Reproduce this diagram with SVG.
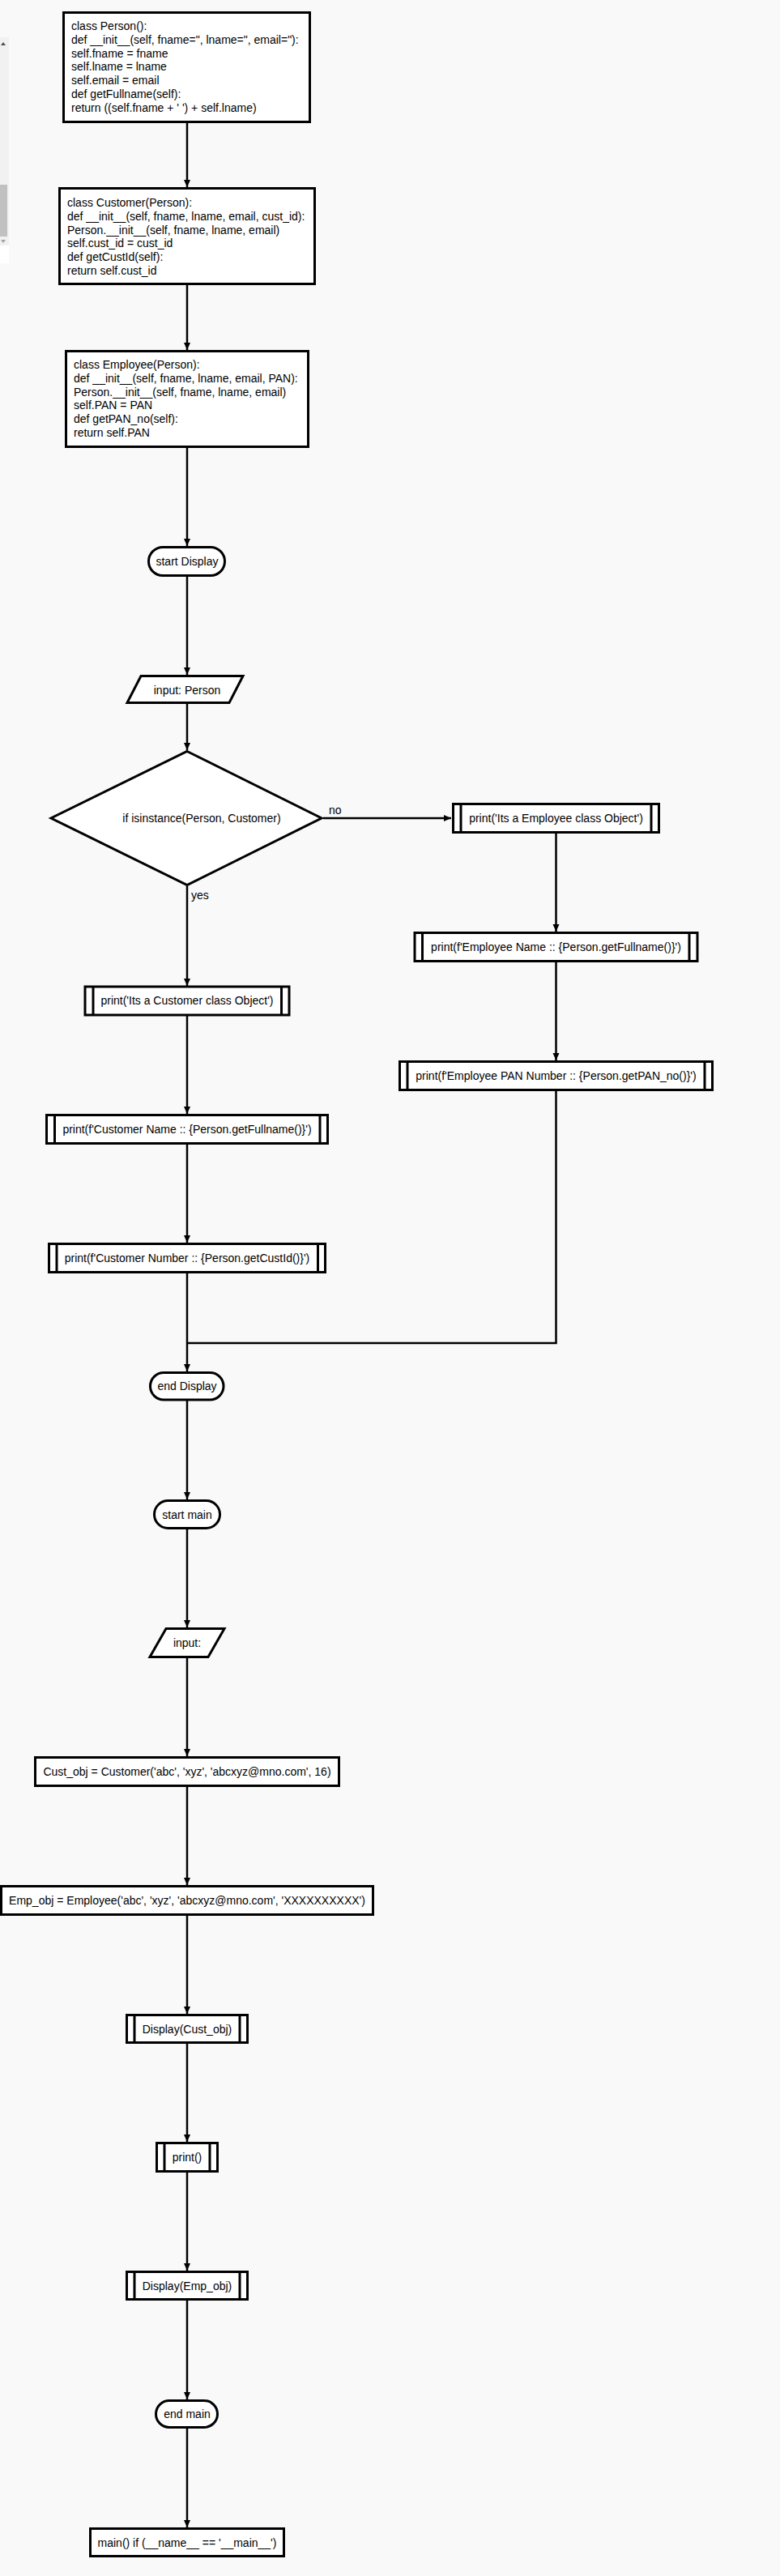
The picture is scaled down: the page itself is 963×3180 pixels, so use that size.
<svg xmlns="http://www.w3.org/2000/svg" width="963" height="3180" viewBox="0 0 963 3180">
<style>
.bg{fill:#f9f9f9}
.box{fill:#fff;stroke:#000;stroke-width:3}
.inner{stroke:#000;stroke-width:3;fill:none}
.t{font-family:"Liberation Sans",Arial,sans-serif;font-size:14px;fill:#000}
.c{text-anchor:middle}
.edge{fill:none;stroke:#000;stroke-width:2.5}
</style>
<defs>
<marker id="arr" markerUnits="userSpaceOnUse" markerWidth="10" markerHeight="10" refX="9" refY="4" orient="auto">
<path d="M0,0 L9,4 L0,8 Z" fill="#000"/>
</marker>
</defs>
<rect class="bg" x="0" y="0" width="963" height="3180"/>
<g id="scrollbar">
<rect x="0" y="46" width="11" height="257" fill="#f1f1f1"/>
<rect x="0" y="228" width="9" height="64" fill="#c1c1c1"/>
<path d="M1,56 L4,52 L7,56 Z" fill="#505050"/>
<path d="M1,296 L4,300 L7,296 Z" fill="#a3a3a3"/>
<rect x="0" y="303" width="11" height="22" fill="#fff"/>
</g>
<g id="connectors">
<path class="edge" d="M231,152 V231" marker-end="url(#arr)"/>
<path class="edge" d="M231,352 V432" marker-end="url(#arr)"/>
<path class="edge" d="M231,553 V674" marker-end="url(#arr)"/>
<path class="edge" d="M231,712 V833" marker-end="url(#arr)"/>
<path class="edge" d="M231,869 V926" marker-end="url(#arr)"/>
<path class="edge" d="M399,1010 H557" marker-end="url(#arr)"/>
<path class="edge" d="M231,1094 V1217" marker-end="url(#arr)"/>
<path class="edge" d="M686.5,1029 V1150" marker-end="url(#arr)"/>
<path class="edge" d="M686.5,1187 V1309" marker-end="url(#arr)"/>
<path class="edge" d="M231,1254 V1375" marker-end="url(#arr)"/>
<path class="edge" d="M231,1412 V1534" marker-end="url(#arr)"/>
<path class="edge" d="M686.5,1346 V1658 H231"/>
<path class="edge" d="M231,1571 V1693" marker-end="url(#arr)"/>
<path class="edge" d="M231,1729 V1851" marker-end="url(#arr)"/>
<path class="edge" d="M231,1888 V2009" marker-end="url(#arr)"/>
<path class="edge" d="M231,2047 V2168" marker-end="url(#arr)"/>
<path class="edge" d="M231,2206 V2327" marker-end="url(#arr)"/>
<path class="edge" d="M231,2365 V2486" marker-end="url(#arr)"/>
<path class="edge" d="M231,2523 V2644" marker-end="url(#arr)"/>
<path class="edge" d="M231,2682 V2803" marker-end="url(#arr)"/>
<path class="edge" d="M231,2840 V2962" marker-end="url(#arr)"/>
<path class="edge" d="M231,2998 V3120" marker-end="url(#arr)"/>
<text class="t" x="406" y="1005">no</text>
<text class="t" x="236" y="1110">yes</text>
</g>
<g id="person">
<rect class="box" x="78.5" y="15.5" width="304" height="135"/>
<text class="t" x="88" y="37"><tspan x="88">class Person():</tspan><tspan x="88" dy="16.8">def __init__(self, fname=", lname=", email="):</tspan><tspan x="88" dy="16.8">self.fname = fname</tspan><tspan x="88" dy="16.8">self.lname = lname</tspan><tspan x="88" dy="16.8">self.email = email</tspan><tspan x="88" dy="16.8">def getFullname(self):</tspan><tspan x="88" dy="16.8">return ((self.fname + ' ') + self.lname)</tspan></text>
</g>
<g id="customer">
<rect class="box" x="73.5" y="232.5" width="315" height="118"/>
<text class="t" x="83" y="255"><tspan x="83">class Customer(Person):</tspan><tspan x="83" dy="16.8">def __init__(self, fname, lname, email, cust_id):</tspan><tspan x="83" dy="16.8">Person.__init__(self, fname, lname, email)</tspan><tspan x="83" dy="16.8">self.cust_id = cust_id</tspan><tspan x="83" dy="16.8">def getCustId(self):</tspan><tspan x="83" dy="16.8">return self.cust_id</tspan></text>
</g>
<g id="employee">
<rect class="box" x="81.5" y="433.5" width="299" height="118"/>
<text class="t" x="91" y="455"><tspan x="91">class Employee(Person):</tspan><tspan x="91" dy="16.8">def __init__(self, fname, lname, email, PAN):</tspan><tspan x="91" dy="16.8">Person.__init__(self, fname, lname, email)</tspan><tspan x="91" dy="16.8">self.PAN = PAN</tspan><tspan x="91" dy="16.8">def getPAN_no(self):</tspan><tspan x="91" dy="16.8">return self.PAN</tspan></text>
</g>
<g id="start-display">
<rect class="box" x="183.5" y="675.5" width="94" height="35" rx="17.5"/>
<text class="t c" x="231" y="698">start Display</text>
</g>
<g id="input-person">
<polygon class="box" points="174,834.5 300,834.5 283,867.5 157,867.5"/>
<text class="t c" x="231" y="857">input: Person</text>
</g>
<g id="decision">
<polygon class="box" points="231,927.5 397,1010 231,1092.5 63,1010"/>
<text class="t c" x="249" y="1015">if isinstance(Person, Customer)</text>
</g>
<g id="emp-print">
<rect class="box" x="559.5" y="992.5" width="254" height="35"/>
<path class="inner" d="M569,992.5 V1027.5 M804,992.5 V1027.5"/>
<text class="t c" x="686.5" y="1015">print('Its a Employee class Object')</text>
</g>
<g id="emp-name">
<rect class="box" x="512" y="1151.5" width="349" height="35"/>
<path class="inner" d="M521.5,1151.5 V1186.5 M851,1151.5 V1186.5"/>
<text class="t c" x="686.5" y="1174">print(f'Employee Name :: {Person.getFullname()}')</text>
</g>
<g id="emp-pan">
<rect class="box" x="493.5" y="1310.5" width="386" height="35"/>
<path class="inner" d="M503,1310.5 V1345.5 M870,1310.5 V1345.5"/>
<text class="t c" x="686.5" y="1333">print(f'Employee PAN Number :: {Person.getPAN_no()}')</text>
</g>
<g id="cust-print">
<rect class="box" x="105" y="1218" width="252" height="35"/>
<path class="inner" d="M115,1218 V1253 M347.5,1218 V1253"/>
<text class="t c" x="231" y="1240">print('Its a Customer class Object')</text>
</g>
<g id="cust-name">
<rect class="box" x="57.5" y="1376.5" width="347" height="35"/>
<path class="inner" d="M67.5,1376.5 V1411.5 M395,1376.5 V1411.5"/>
<text class="t c" x="231" y="1399">print(f'Customer Name :: {Person.getFullname()}')</text>
</g>
<g id="cust-number">
<rect class="box" x="60.5" y="1535.5" width="341" height="35"/>
<path class="inner" d="M70,1535.5 V1570.5 M392.5,1535.5 V1570.5"/>
<text class="t c" x="231" y="1558">print(f'Customer Number :: {Person.getCustId()}')</text>
</g>
<g id="end-display">
<rect class="box" x="185.5" y="1694.5" width="90.5" height="33.5" rx="16.75"/>
<text class="t c" x="231" y="1716">end Display</text>
</g>
<g id="start-main">
<rect class="box" x="190.5" y="1852.5" width="81" height="34" rx="17"/>
<text class="t c" x="231" y="1875">start main</text>
</g>
<g id="input-main">
<polygon class="box" points="205,2010.5 277,2010.5 257,2045.5 185,2045.5"/>
<text class="t c" x="231" y="2033">input:</text>
</g>
<g id="cust-obj">
<rect class="box" x="43.5" y="2169.5" width="375" height="35"/>
<text class="t c" x="231" y="2192">Cust_obj = Customer('abc', 'xyz', 'abcxyz@mno.com', 16)</text>
</g>
<g id="emp-obj">
<rect class="box" x="1.5" y="2328.5" width="459" height="35"/>
<text class="t c" x="231" y="2351">Emp_obj = Employee('abc', 'xyz', 'abcxyz@mno.com', 'XXXXXXXXXX')</text>
</g>
<g id="display-cust">
<rect class="box" x="156.5" y="2487.5" width="149" height="34"/>
<path class="inner" d="M166,2487.5 V2521.5 M296,2487.5 V2521.5"/>
<text class="t c" x="231" y="2510">Display(Cust_obj)</text>
</g>
<g id="print-empty">
<rect class="box" x="193.5" y="2645.5" width="75" height="35"/>
<path class="inner" d="M203,2645.5 V2680.5 M259,2645.5 V2680.5"/>
<text class="t c" x="231" y="2668">print()</text>
</g>
<g id="display-emp">
<rect class="box" x="156.5" y="2804.5" width="149" height="34"/>
<path class="inner" d="M166,2804.5 V2838.5 M296,2804.5 V2838.5"/>
<text class="t c" x="231" y="2827">Display(Emp_obj)</text>
</g>
<g id="end-main">
<rect class="box" x="192.5" y="2963.5" width="76" height="33" rx="16.5"/>
<text class="t c" x="231" y="2985">end main</text>
</g>
<g id="main-call">
<rect class="box" x="111.5" y="3121.5" width="239" height="34"/>
<text class="t c" x="231" y="3144">main() if (__name__ == '__main__')</text>
</g>
</svg>
